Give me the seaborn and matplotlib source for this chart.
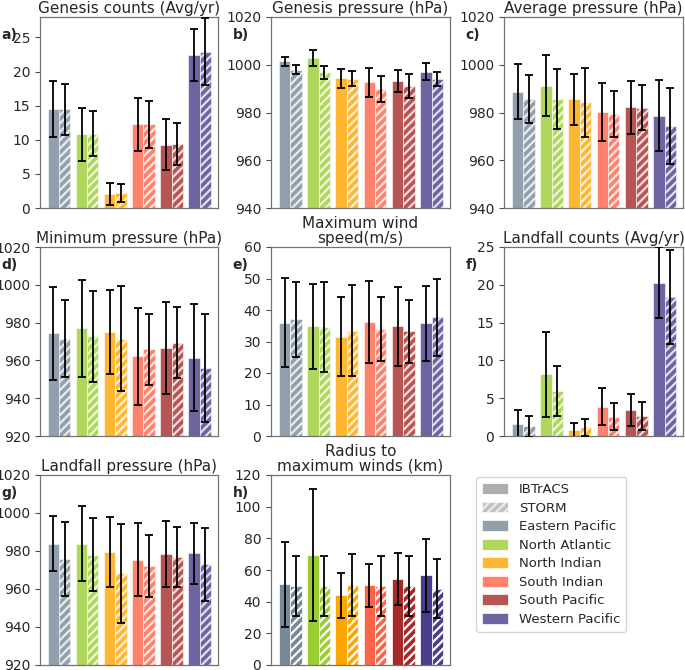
import numpy as np
import pandas as pd
import matplotlib
matplotlib.use("Agg")
import matplotlib.pyplot as plt
import matplotlib.patches as mpatches
from matplotlib.container import BarContainer
import seaborn as sns

sns.set_style("ticks")
plt.rcParams["font.family"] = ["DejaVu Sans"]
plt.rcParams["hatch.linewidth"] = 1.6
plt.rcParams["axes.edgecolor"] = "0.45"

basins = ["Eastern Pacific", "North Atlantic", "North Indian",
          "South Indian", "South Pacific", "Western Pacific"]
basin_colors = ["lightslategray", "yellowgreen", "orange",
                "tomato", "brown", "darkslateblue"]

# a) Genesis counts
gen_cnt_ib = [14.5, 10.8, 2.05, 12.25, 9.3, 22.45]
gen_cnt_ib_err = [4.05, 3.9, 1.6, 3.9, 3.8, 3.85]
gen_cnt_st = [14.5, 10.9, 2.2, 12.25, 9.4, 22.9]
gen_cnt_st_err = [3.75, 3.25, 1.35, 3.5, 3.1, 4.9]
# b) Genesis pressure
gen_p_ib = [1001.4, 1002.8, 994.3, 992.6, 993.3, 997.1]
gen_p_ib_err = [1.9, 3.5, 4.05, 6.2, 4.7, 3.6]
gen_p_st = [998.0, 996.8, 994.1, 989.8, 991.2, 994.1]
gen_p_st_err = [1.9, 2.8, 3.15, 5.3, 5.1, 3.0]
# c) Average pressure
avg_p_ib = [988.7, 991.2, 985.6, 980.1, 982.2, 978.7]
avg_p_ib_err = [11.6, 12.85, 10.7, 12.1, 11.0, 14.95]
avg_p_st = [985.6, 985.6, 984.2, 979.3, 982.0, 974.5]
avg_p_st_err = [10.0, 12.5, 14.45, 9.5, 9.4, 15.9]
# d) Minimum pressure
min_p_ib = [974.3, 976.9, 975.0, 962.1, 966.6, 961.4]
min_p_ib_err = [24.7, 25.6, 22.1, 25.8, 24.15, 28.35]
min_p_st = [971.4, 972.7, 971.5, 965.8, 969.4, 956.1]
min_p_st_err = [20.3, 24.05, 27.95, 18.75, 18.85, 28.55]
# e) Maximum wind speed
wind_ib = [36.0, 34.8, 31.5, 36.1, 34.8, 35.8]
wind_ib_err = [14.05, 13.5, 12.55, 12.95, 12.55, 11.95]
wind_st = [37.0, 34.6, 33.4, 33.9, 33.3, 37.7]
wind_st_err = [11.95, 14.35, 14.45, 10.2, 10.0, 12.2]
# f) Landfall counts
lf_cnt_ib = [1.6, 8.15, 0.75, 3.9, 3.45, 20.3]
lf_cnt_ib_err = [1.85, 5.6, 0.95, 2.5, 2.15, 4.75]
lf_cnt_st = [1.3, 5.95, 1.15, 2.55, 2.65, 18.4]
lf_cnt_st_err = [1.4, 3.3, 1.15, 1.75, 1.9, 6.25]
# g) Landfall pressure
lf_p_ib = [983.9, 983.9, 979.5, 975.5, 978.5, 978.8]
lf_p_ib_err = [14.3, 19.6, 18.3, 19.3, 17.3, 16.05]
lf_p_st = [975.9, 978.1, 968.3, 972.0, 976.9, 972.9]
lf_p_st_err = [19.6, 19.4, 26.15, 16.2, 15.85, 19.25]
# h) Radius to maximum winds
rmax_ib = [50.9, 69.7, 44.0, 50.3, 54.3, 56.6]
rmax_ib_err = [27.05, 41.6, 14.3, 13.8, 16.2, 22.85]
rmax_st = [49.9, 50.1, 50.5, 49.9, 49.9, 48.2]
rmax_st_err = [19.05, 19.05, 19.35, 18.7, 19.05, 18.5]

panels = [
    ("a)", "Genesis counts (Avg/yr)", gen_cnt_ib, gen_cnt_ib_err, gen_cnt_st, gen_cnt_st_err, (0, 28), np.arange(0, 26, 5)),
    ("b)", "Genesis pressure (hPa)", gen_p_ib, gen_p_ib_err, gen_p_st, gen_p_st_err, (940, 1020), np.arange(940, 1021, 20)),
    ("c)", "Average pressure (hPa)", avg_p_ib, avg_p_ib_err, avg_p_st, avg_p_st_err, (940, 1020), np.arange(940, 1021, 20)),
    ("d)", "Minimum pressure (hPa)", min_p_ib, min_p_ib_err, min_p_st, min_p_st_err, (920, 1020), np.arange(920, 1021, 20)),
    ("e)", "Maximum wind\nspeed(m/s)", wind_ib, wind_ib_err, wind_st, wind_st_err, (0, 60), np.arange(0, 61, 10)),
    ("f)", "Landfall counts (Avg/yr)", lf_cnt_ib, lf_cnt_ib_err, lf_cnt_st, lf_cnt_st_err, (0, 25), np.arange(0, 26, 5)),
    ("g)", "Landfall pressure (hPa)", lf_p_ib, lf_p_ib_err, lf_p_st, lf_p_st_err, (920, 1020), np.arange(920, 1021, 20)),
    ("h)", "Radius to\nmaximum winds (km)", rmax_ib, rmax_ib_err, rmax_st, rmax_st_err, (0, 120), np.arange(0, 121, 20)),
]

W, H = 685, 670
fig = plt.figure(figsize=(W / 100, H / 100), dpi=100)

col_x = [(40, 218), (271, 450), (504, 683)]
row_y = [(17, 208), (247, 436), (475, 665)]

for k, (lab, title, ib, ib_err, st, st_err, ylim, yticks) in enumerate(panels):
    r, c = divmod(k, 3)
    x0, x1 = col_x[c]
    y0, y1 = row_y[r]
    ax = fig.add_axes([x0 / W, 1 - y1 / H, (x1 - x0) / W, (y1 - y0) / H])
    df = pd.DataFrame({
        "basin": basins * 2,
        "source": ["IBTrACS"] * 6 + ["STORM"] * 6,
        "value": list(ib) + list(st),
    })
    sns.barplot(data=df, x="basin", y="value", hue="source",
                hue_order=["IBTrACS", "STORM"], order=basins,
                errorbar=None, width=0.8, saturation=1, legend=False, ax=ax)
    alpha = 1.0 if lab == "h)" else 0.8
    errs = [ib_err, st_err]
    means = [ib, st]
    bar_conts = [cn for cn in ax.containers if isinstance(cn, BarContainer)]
    for j, cont in enumerate(bar_conts):
        xs = []
        for i, p in enumerate(cont.patches):
            p.set_facecolor(basin_colors[i])
            p.set_alpha(alpha)
            p.set_edgecolor("white")
            p.set_linewidth(0.5)
            if j == 1:
                p.set_hatch("////")
            xs.append(p.get_x() + p.get_width() / 2)
        ax.errorbar(xs, means[j], yerr=errs[j], fmt="none", ecolor="black",
                    elinewidth=1.3, capsize=3.2, capthick=1.3, zorder=5)
    ax.set_xlim(-0.68, 5.65)
    ax.set_ylim(*ylim)
    ax.set_yticks(yticks)
    ax.set_xticks([])
    ax.set_xlabel("")
    ax.set_ylabel("")
    ax.tick_params(axis="y", labelsize=10, length=3.5, width=0.8, color="0.3")
    for s in ax.spines.values():
        s.set_linewidth(0.9)
    ax.set_title(title, fontsize=11, pad=3, linespacing=1.0)
    ax.text(-0.215, 0.905, lab, transform=ax.transAxes, fontsize=10,
            fontweight="bold", ha="left", va="center")

handles = [
    mpatches.Patch(facecolor="darkgray", alpha=0.95, edgecolor="white", linewidth=0.6, label="IBTrACS"),
    mpatches.Patch(facecolor="darkgray", alpha=0.7, edgecolor="white", linewidth=0.6, hatch="////", label="STORM"),
]
for b, col in zip(basins, basin_colors):
    handles.append(mpatches.Patch(facecolor=col, alpha=0.8, edgecolor="white", linewidth=0.6, label=b))

fig.legend(handles=handles, loc="upper left",
           bbox_to_anchor=(476 / W, 1 - 477 / H), fontsize=9.5,
           labelspacing=0.42, handlelength=2.0, handleheight=0.9,
           frameon=True, edgecolor="0.8", borderpad=0.45, handletextpad=0.8,
           borderaxespad=0)

fig.savefig("out.png", dpi=100)
